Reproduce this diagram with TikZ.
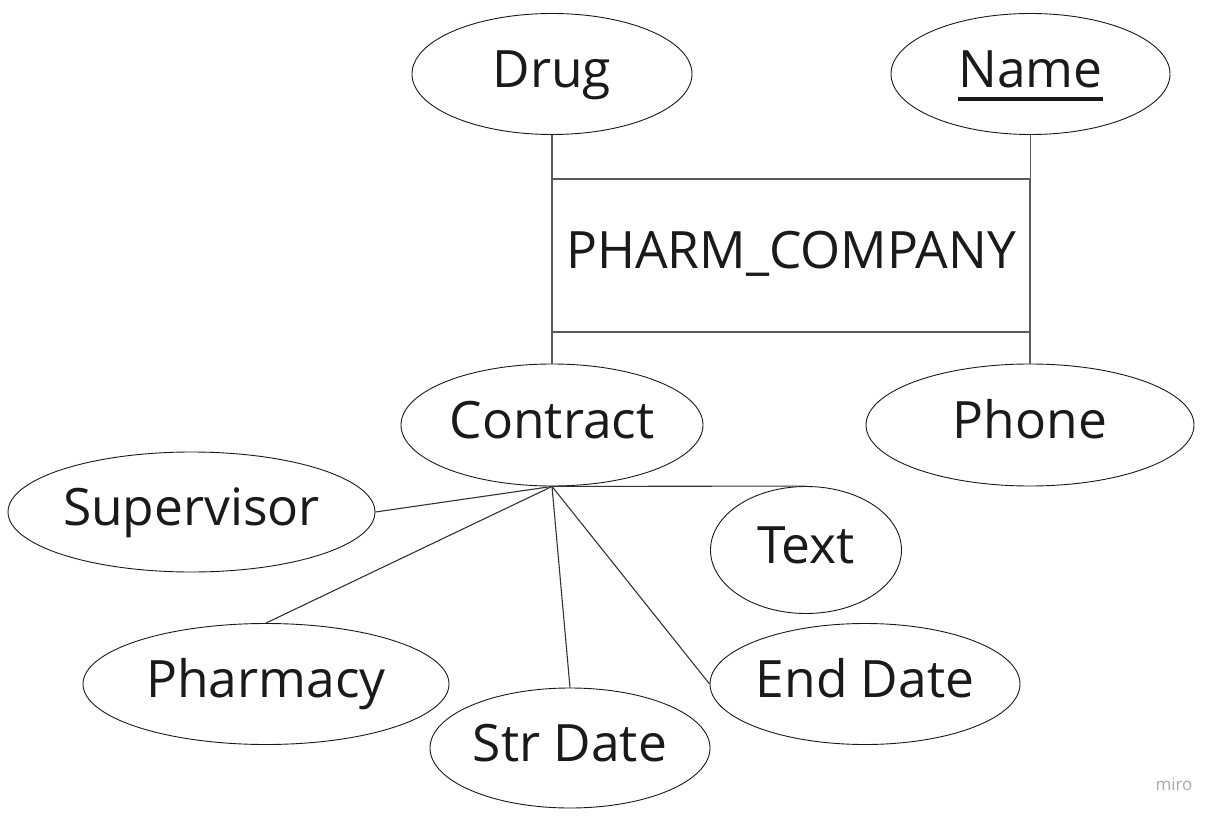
\documentclass[tikz,border=0pt]{standalone}
\usepackage{fontspec}
\setmainfont{Open Sans}
\usetikzlibrary{shapes.geometric}
\definecolor{ink}{HTML}{1A1A1A}
\definecolor{edge}{HTML}{333333}
\definecolor{boxline}{HTML}{5A5A5A}
\definecolor{wm}{HTML}{A8A8B0}
\tikzset{
  attr/.style={ellipse, draw=ink, line width=0.9pt, inner sep=0pt,
    font=\fontsize{51.5}{60}\selectfont, text=ink, text height=40pt, text depth=13pt},
  entity/.style={rectangle, draw=boxline, line width=1.4pt, inner sep=0pt,
    font=\fontsize{51.5}{60}\selectfont, text=ink, text height=40pt, text depth=13pt},
  conn/.style={draw=edge, line width=1.1pt},
  vconn/.style={draw=boxline, line width=1.4pt}
}
\begin{document}
\begin{tikzpicture}[x=1pt,y=-1pt]
\useasboundingbox[fill=white] (0,0) rectangle (1221,818);
% entity
\node[entity, minimum width=478pt, minimum height=153pt] (pc) at (791,255.5) {PHARM\_COMPANY};
% attributes
\node[attr, minimum width=280pt, minimum height=121pt] (drug) at (552,74) {Drug};
\node[attr, minimum width=279pt, minimum height=121pt] (name) at (1030.5,74) {Name};
\draw[ink, line width=4pt] ([xshift=-72.5pt,yshift=-25pt]name.center) -- ([xshift=72.5pt,yshift=-25pt]name.center);
\node[attr, minimum width=302pt, minimum height=122pt] (contract) at (552,425) {Contract};
\node[attr, minimum width=328pt, minimum height=122pt] (phone) at (1030,425) {Phone};
\node[attr, minimum width=367pt, minimum height=120pt] (super) at (191.5,512) {Supervisor};
\node[attr, minimum width=191pt, minimum height=127pt] (text) at (806,550) {Text};
\node[attr, minimum width=366pt, minimum height=121pt] (pharm) at (266,684) {Pharmacy};
\node[attr, minimum width=280pt, minimum height=120pt] (str) at (570,748) {Str Date};
\node[attr, minimum width=310pt, minimum height=121pt] (end) at (865,684) {End Date};
% connectors to entity
\draw[vconn] (drug.south) -- (drug.south |- pc.north);
\draw[vconn] (name.south) -- (name.south |- pc.north);
\draw[vconn] (contract.north) -- (contract.north |- pc.south);
\draw[vconn] (phone.north) -- (phone.north |- pc.south);
% connectors from contract
\draw[conn] (contract.south) -- (super.east);
\draw[conn] (contract.south) -- (pharm.north);
\draw[conn] (contract.south) -- (str.north);
\draw[conn] (contract.south) -- (end.west);
\draw[conn] (contract.south) -- (text.north);
% watermark
\node[text=wm, font=\fontsize{17}{20}\selectfont, inner sep=0pt] (miro) at (1174,784) {miro};
\end{tikzpicture}
\end{document}
